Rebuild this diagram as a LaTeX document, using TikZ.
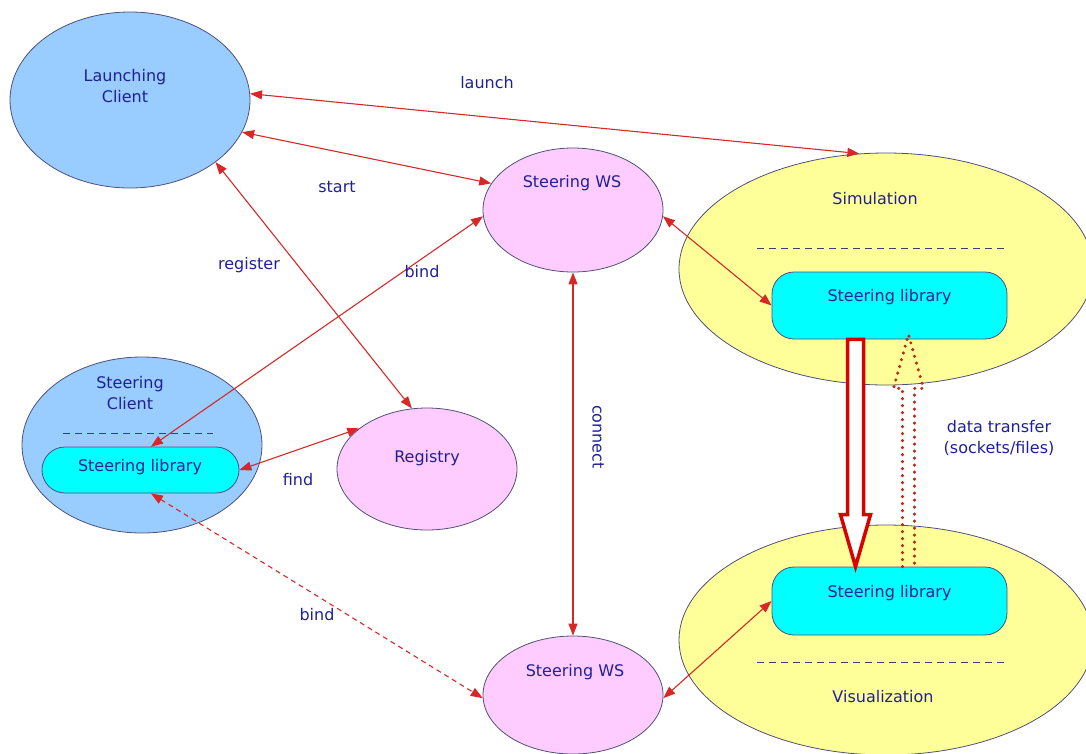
\documentclass[tikz,border=0pt]{standalone}
\usepackage{fontspec}
\setmainfont{DejaVu Sans}
\usetikzlibrary{shapes.geometric,arrows.meta,calc}

\definecolor{clientblue}{RGB}{153,204,255}
\definecolor{wspink}{RGB}{255,204,255}
\definecolor{appyellow}{RGB}{255,255,153}
\definecolor{libcyan}{RGB}{0,255,255}
\definecolor{edgecol}{RGB}{80,80,120}
\definecolor{txtblue}{RGB}{32,32,150}
\definecolor{linkred}{RGB}{215,40,40}
\definecolor{dotred}{RGB}{190,40,20}

\tikzset{
  blob/.style={ellipse, draw=edgecol, line width=0.8pt, inner sep=0pt},
  libbox/.style={rectangle, draw=edgecol, line width=0.8pt, fill=libcyan, inner sep=0pt},
  txt/.style={text=txtblue, font=\fontsize{16}{21}\selectfont, align=center, inner sep=0pt},
  link/.style={draw=linkred, line width=1.1pt, <->, >={Triangle[length=12pt,width=9pt]}},
  sep/.style={draw=edgecol!80!black, line width=0.9pt, dash pattern=on 7pt off 5pt},
  bigarrow/.style={draw=red!85!black, line width=3.5pt, fill=white, line join=miter},
  dotarrow/.style={draw=dotred, line width=3.4pt, line cap=round, dash pattern=on 0pt off 7pt}
}

\begin{document}
\begin{tikzpicture}[x=1pt,y=-1pt]
\useasboundingbox (0,0) rectangle (1086,753);

% ---- component shapes ----
\node[blob, fill=clientblue, minimum width=240pt, minimum height=176pt] (lc) at (130,100) {};
\node[blob, fill=clientblue, minimum width=240pt, minimum height=176pt] (sc) at (142,445) {};
\node[blob, fill=wspink, minimum width=180pt, minimum height=124pt] (wst) at (573,210) {};
\node[blob, fill=wspink, minimum width=180pt, minimum height=118pt] (wsb) at (573,695) {};
\node[blob, fill=wspink, minimum width=180pt, minimum height=122pt] (reg) at (427,469) {};
\node[blob, fill=appyellow, minimum width=414pt, minimum height=232pt] (sim) at (886,269) {};
\node[blob, fill=appyellow, minimum width=414pt, minimum height=230pt] (vis) at (886,640) {};

% ---- steering libraries ----
\node[libbox, rounded corners=22pt, minimum width=235pt, minimum height=67pt] (simlib) at (889.5,305.5) {};
\node[libbox, rounded corners=22pt, minimum width=235pt, minimum height=68pt] (vislib) at (889.5,601) {};
\node[libbox, rounded corners=23pt, minimum width=197pt, minimum height=46pt] (sclib) at (140.5,470) {};

% ---- separators ----
\draw[sep] (757,248) -- (1007,248);
\draw[sep] (757,662) -- (1007,662);
\draw[sep] (63,433) -- (213,433);

% ---- texts inside shapes ----
\node[txt] (lctext) at (125,86) {Launching\\Client};
\node[txt] (sctext) at (130,393) {Steering\\Client};
\node[txt] (wsttext) at (572,183) {Steering WS};
\node[txt] (wsbtext) at (575,672) {Steering WS};
\node[txt] (regtext) at (427,458) {Registry};
\node[txt] (simtext) at (875,199) {Simulation};
\node[txt] (vistext) at (883,697) {Visualization};
\node[txt] (simlibtext) at (889.5,297) {Steering library};
\node[txt] (vislibtext) at (889.5,593) {Steering library};
\node[txt] (sclibtext) at (140,467) {Steering library};

% ---- connectors ----
\draw[link] (lc.3) -- (sim.103);
\draw[link] (lc.-16) -- (wst.162);
\draw[link] (lc.-36) -- (reg.104);
\draw[link] (wst.184) -- (sclib.66);
\draw[link] (sclib.east) -- (reg.149);
\draw[link, dash pattern=on 5pt off 4pt] (sclib.-66) -- (wsb.182);
\draw[link] (wst.south) -- (wsb.north);
\draw[link] (wst.-4) -- (simlib.west);
\draw[link] (wsb.-2) -- (vislib.west);

% ---- data transfer arrows ----
\coordinate (bt) at ($(simlib.south)+(-34,0)$);
\coordinate (bb) at ($(vislib.north)+(-34,0)$);
\draw[bigarrow] ($(bt)+(-8,0)$) -- ($(bb)+(-8,-52)$) -- ($(bb)+(-15,-52)$) -- (bb)
  -- ($(bb)+(15,-52)$) -- ($(bb)+(8,-52)$) -- ($(bt)+(8,0)$) -- cycle;
\coordinate (dt) at ($(simlib.south)+(19,-5)$);
\coordinate (db) at ($(vislib.north)+(19,0)$);
\draw[dotarrow] ($(db)+(-6,0)$) -- ($(dt)+(-6,54)$) -- ($(dt)+(-15,54)$) -- (dt)
  -- ($(dt)+(15,54)$) -- ($(dt)+(6,54)$) -- ($(db)+(6,0)$);

% ---- connector labels ----
\node[txt] (lLaunch) at (487,83) {launch};
\node[txt] (lStart) at (337,187) {start};
\node[txt] (lRegister) at (249,265) {register};
\node[txt] (lBind) at (422,272) {bind};
\node[txt] (lFind) at (298,480) {find};
\node[txt] (lBind2) at (317,615) {bind};
\node[txt, rotate=-90] (lConnect) at (598,437) {connect};
\node[txt] (lData) at (999,438) {data transfer\\(sockets/files)};
\end{tikzpicture}
\end{document}
